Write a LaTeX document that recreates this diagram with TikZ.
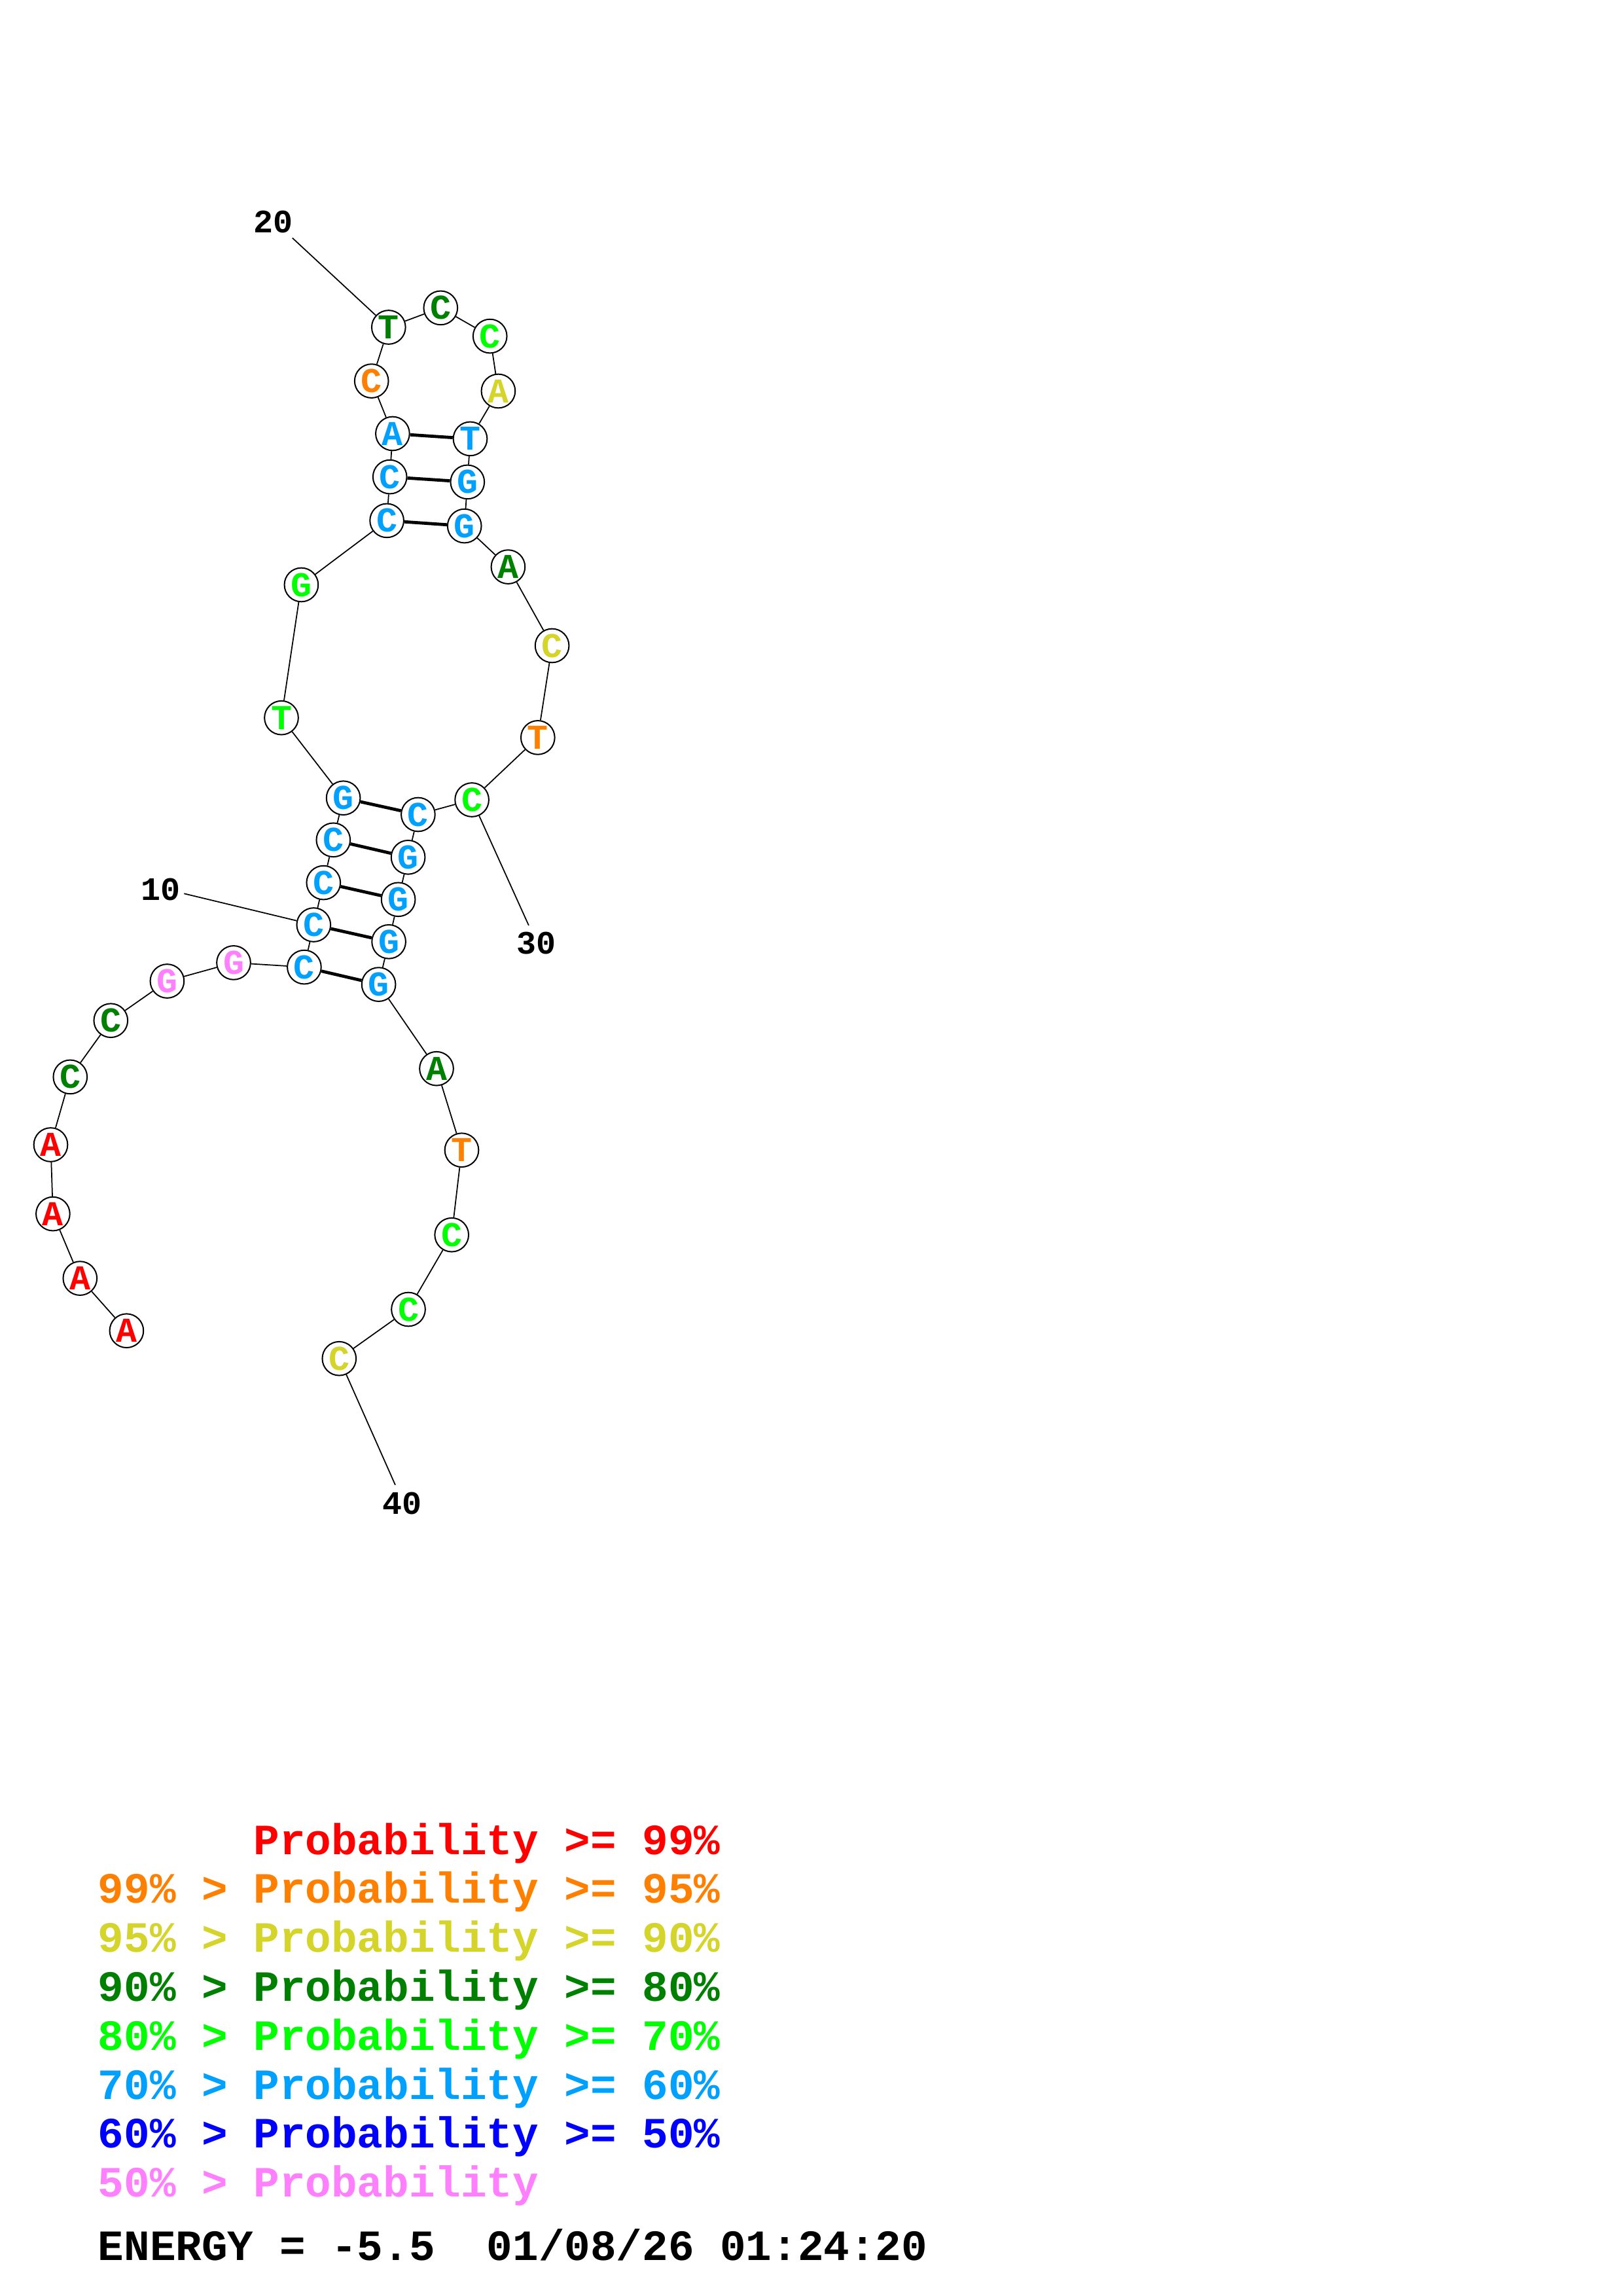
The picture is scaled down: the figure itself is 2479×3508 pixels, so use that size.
\documentclass[tikz,border=0pt]{standalone}
\usepackage{fontspec}
\setmonofont{Liberation Mono}
\definecolor{cred}{RGB}{255,0,0}
\definecolor{corange}{RGB}{255,128,0}
\definecolor{cyellow}{RGB}{212,212,42}
\definecolor{cdgreen}{RGB}{0,128,0}
\definecolor{cgreen}{RGB}{0,255,0}
\definecolor{clblue}{RGB}{0,160,255}
\definecolor{cblue}{RGB}{0,0,255}
\definecolor{cpink}{RGB}{255,128,255}
\begin{document}
\begin{tikzpicture}[x=0.24pt,y=-0.24pt,
  nt/.style={circle,draw=black,line width=0.48pt,minimum size=12.4pt,inner sep=0pt,fill=white,
    font=\ttfamily\bfseries\fontsize{12.8}{12.8}\selectfont},
  bb/.style={line width=0.42pt},
  bp/.style={line width=1.15pt},
  lbl/.style={inner sep=0pt,font=\ttfamily\bfseries\fontsize{12}{12}\selectfont},
  leg/.style={anchor=base west,inner sep=0pt,font=\ttfamily\bfseries\fontsize{15.84}{15.84}\selectfont}]
\useasboundingbox[fill=white] (0,0) rectangle (2479,3508);
% nucleotides
\foreach \i/\x/\y/\b/\c in {
 1/193.4/2033.2/A/cred, 2/122.3/1953.1/A/cred, 3/80.9/1854.6/A/cred, 4/77.5/1749/A/cred,
 5/107.3/1645.4/C/cdgreen, 6/169.3/1559.2/C/cdgreen, 7/255.4/1499/G/cpink, 8/357/1470.9/G/cpink,
 9/464.9/1477.6/C/clblue, 10/479.3/1413/C/clblue, 11/494.3/1348.6/C/clblue, 12/509.3/1283.3/C/clblue,
 13/524.6/1219.2/G/clblue, 14/430/1096.7/T/cgreen, 15/460.4/893.5/G/cgreen, 16/591.1/795.4/C/clblue,
 17/595.7/728.6/C/clblue, 18/599.9/662.5/A/clblue, 19/567.7/582.1/C/corange, 20/593.8/500/T/cdgreen,
 21/673.3/470.4/C/cdgreen, 22/748.7/513.6/C/cgreen, 23/761.4/597.5/A/cyellow, 24/718.5/670.4/T/clblue,
 25/714.3/736.4/G/clblue, 26/709.7/803.6/G/clblue, 27/776.4/866.1/A/cdgreen, 28/843.6/986.5/C/cyellow,
 29/821.8/1126.9/T/corange, 30/721.1/1222/C/cgreen, 31/638.9/1244.5/C/clblue, 32/623.6/1309.8/G/clblue,
 33/608.6/1374.3/G/clblue, 34/594.1/1438.8/G/clblue, 35/578.6/1504.1/G/clblue, 36/667/1632.7/A/cdgreen,
 37/705.5/1757.2/T/corange, 38/690.2/1886.7/C/cgreen, 39/624/2000.5/C/cgreen, 40/518.3/2075.7/C/cyellow}
 { \node[nt,text=\c] (n\i) at (\x,\y) {\b}; }
% backbone
\foreach \i [evaluate=\i as \j using int(\i+1)] in {1,...,39}
 { \draw[bb] (n\i) -- (n\j); }
% base pairs
\foreach \a/\b in {9/35,10/34,11/33,12/32,13/31,16/26,17/25,18/24}
 { \draw[bp] (n\a) -- (n\b); }
% position labels
\node[lbl] (t10) at (245.7,1358.7) {10};
\node[lbl] (t20) at (417,339.3) {20};
\node[lbl] (t30) at (819,1441.5) {30};
\node[lbl] (t40) at (614.3,2297) {40};
\coordinate (e10) at (281.3,1365.3);
\coordinate (e20) at (446.8,363.6);
\coordinate (e30) at (807.9,1413.9);
\coordinate (e40) at (604,2268.8);
\draw[bb] (e10) -- (n10);
\draw[bb] (e20) -- (n20);
\draw[bb] (n30) -- (e30);
\draw[bb] (n40) -- (e40);
% legend
\node[leg,text=cred]    (g1) at (386.6,2833) {Probability >= 99\%};
\node[leg,text=corange] (g2) at (149,2907.8) {99\% > Probability >= 95\%};
\node[leg,text=cyellow] (g3) at (149,2982.6) {95\% > Probability >= 90\%};
\node[leg,text=cdgreen] (g4) at (149,3057.4) {90\% > Probability >= 80\%};
\node[leg,text=cgreen]  (g5) at (149,3132.2) {80\% > Probability >= 70\%};
\node[leg,text=clblue]  (g6) at (149,3207) {70\% > Probability >= 60\%};
\node[leg,text=cblue]   (g7) at (149,3281.8) {60\% > Probability >= 50\%};
\node[leg,text=cpink]   (g8) at (149,3356.6) {50\% > Probability};
\node[leg,text=black]   (g9) at (149,3453) {ENERGY = -5.5\ \ 01/08/26 01:24:20};
\end{tikzpicture}
\end{document}
